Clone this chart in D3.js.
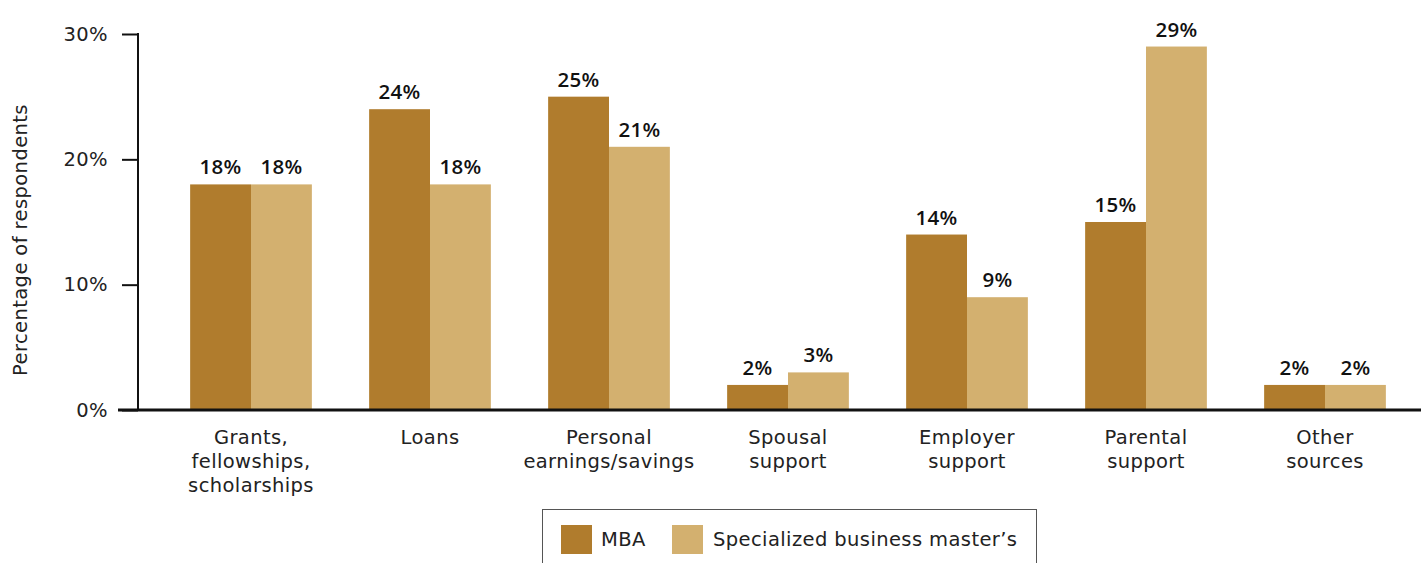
<!DOCTYPE html>
<html>
<head>
<meta charset="utf-8">
<script src="https://cdn.jsdelivr.net/npm/d3@7"></script>
<style>
  html, body { margin: 0; padding: 0; background: #fff; }
  svg { display: block; font-family: "DejaVu Sans", "Open Sans", sans-serif; }
</style>
</head>
<body>
<svg id="chart" width="1421" height="563"></svg>
<script>
const categories = [
  ["Grants,", "fellowships,", "scholarships"],
  ["Loans"],
  ["Personal", "earnings/savings"],
  ["Spousal", "support"],
  ["Employer", "support"],
  ["Parental", "support"],
  ["Other", "sources"]
];
const seriesNames = ["MBA", "Specialized business master\u2019s"];
const mbaValues = [18, 24, 25, 2, 14, 15, 2];
const smbValues = [18, 18, 21, 3, 9, 29, 2];
const yTicks = [0, 10, 20, 30];
const colors = ["#B07C2D", "#D3B06F"];

const svg = d3.select("#chart");
const W = 1421, H = 563;
const x0 = 161.5, x1 = 1414.5, yTop = 34, yBot = 410;
const regFont = "\"DejaVu Sans\", \"Open Sans\", sans-serif";
const regSize = 19.5, regLS = 0.4;

const catIdx = categories.map((d, i) => i);
const x = d3.scaleBand().domain(catIdx).range([x0, x1]).paddingInner(0.32).paddingOuter(0.16);
const xs = d3.scaleBand().domain([0, 1]).range([0, x.bandwidth()]);
const y = d3.scaleLinear().domain([0, 30]).range([yBot, yTop]);

const series = [mbaValues, smbValues];

// bars
series.forEach((vals, s) => {
  svg.append("g").selectAll("rect").data(vals).join("rect")
    .attr("x", (d, i) => x(i) + xs(s))
    .attr("width", xs.bandwidth())
    .attr("y", d => y(d))
    .attr("height", d => y(0) - y(d))
    .attr("fill", colors[s]);
  svg.append("g").selectAll("text").data(vals).join("text")
    .attr("x", (d, i) => x(i) + xs(s) + xs.bandwidth() / 2)
    .attr("y", d => y(d) - 10)
    .attr("text-anchor", "middle")
    .attr("font-family", "\"Open Sans\", sans-serif")
    .attr("font-size", 20.5)
    .attr("font-weight", 600)
    .attr("letter-spacing", 0.3)
    .attr("fill", "#111")
    .text(d => d + "%");
});

// y axis
const yAxis = d3.axisLeft(y).tickValues(yTicks).tickFormat(d => d + "%").tickSize(16).tickPadding(14);
const gy = svg.append("g").attr("transform", `translate(138,0)`).call(yAxis);
gy.select(".domain").remove();
gy.selectAll(".tick line").attr("stroke", "#111").attr("stroke-width", 2);
gy.selectAll(".tick text").attr("font-size", regSize).attr("fill", "#222")
  .attr("font-family", regFont).attr("letter-spacing", regLS);
svg.append("line").attr("x1", 138).attr("x2", 138).attr("y1", y(30) - 1).attr("y2", y(0))
  .attr("stroke", "#111").attr("stroke-width", 2);

// baseline
svg.append("line").attr("x1", 118).attr("x2", W).attr("y1", y(0)).attr("y2", y(0))
  .attr("stroke", "#111").attr("stroke-width", 3);

// y title
svg.append("text")
  .attr("transform", `translate(27,240) rotate(-90)`)
  .attr("text-anchor", "middle")
  .attr("font-size", regSize)
  .attr("letter-spacing", regLS)
  .attr("fill", "#222")
  .text("Percentage of respondents");

// category labels
const cl = svg.append("g").selectAll("text").data(categories).join("text")
  .attr("text-anchor", "middle")
  .attr("font-size", regSize)
  .attr("letter-spacing", regLS)
  .attr("fill", "#222")
  .attr("x", (d, i) => x(i) + x.bandwidth() / 2)
  .attr("y", 444);
cl.selectAll("tspan").data(d => d).join("tspan")
  .attr("x", function() { return d3.select(this.parentNode).attr("x"); })
  .attr("dy", (d, j) => j === 0 ? 0 : 24)
  .text(d => d);

// legend
const lg = svg.append("g");
lg.append("rect").attr("x", 542.5).attr("y", 509.5).attr("width", 494).attr("height", 70)
  .attr("fill", "none").attr("stroke", "#555").attr("stroke-width", 1);
const legendItems = [{x: 561, tx: 601}, {x: 672, tx: 713}];
legendItems.forEach((it, i) => {
  lg.append("rect").attr("x", it.x).attr("y", 525).attr("width", 31).attr("height", 29).attr("fill", colors[i]);
  lg.append("text").attr("x", it.tx).attr("y", 546).attr("font-size", regSize)
    .attr("letter-spacing", regLS).attr("fill", "#222").text(seriesNames[i]);
});
</script>
</body>
</html>
